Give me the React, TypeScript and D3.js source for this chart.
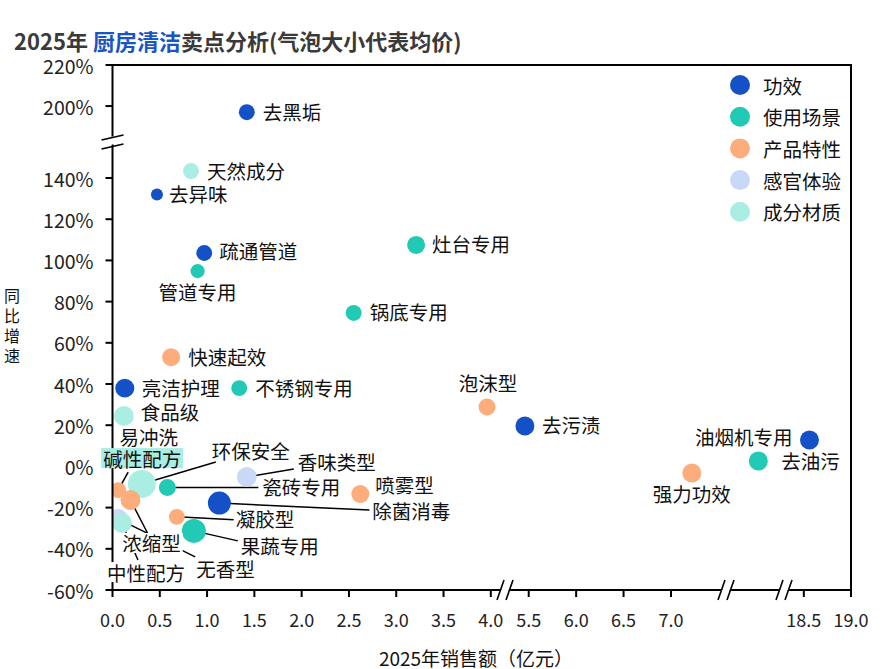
import React from 'react';
import * as d3 from 'd3';

// 卖点数据：名称、类别、销售额(亿元)、同比增速(%)、均价(元)
const names = ['去黑垢', '天然成分', '去异味', '疏通管道', '管道专用', '灶台专用', '锅底专用', '快速起效', '亮洁护理', '不锈钢专用', '食品级', '泡沫型', '去污渍', '油烟机专用', '去油污', '强力功效', '香味类型', '瓷砖专用', '易冲洗', '环保安全', '碱性配方', '浓缩型', '除菌消毒', '喷雾型', '凝胶型', '果蔬专用', '无香型', '中性配方'];
const groups = ['功效', '成分材质', '功效', '功效', '使用场景', '使用场景', '使用场景', '产品特性', '功效', '使用场景', '成分材质', '产品特性', '功效', '功效', '使用场景', '产品特性', '感官体验', '使用场景', '产品特性', '成分材质', '产品特性', '产品特性', '功效', '产品特性', '产品特性', '使用场景', '感官体验', '成分材质'];
const sales = [1.42, 0.83, 0.47, 0.97, 0.90, 3.21, 2.55, 0.62, 0.13, 1.34, 0.12, 3.96, 5.46, 18.56, 12.34, 7.22, 1.42, 0.58, 0.30, 0.31, 0.06, 0.19, 1.13, 2.62, 0.68, 0.86, 0.06, 0.10];
const growth = [197, 143.4, 132, 103.6, 94.8, 107.5, 74.5, 53, 38, 38, 24.5, 28.8, 19.6, 12.8, 2.6, -3.2, -5.1, -10.2, -8, -8.5, -11.5, -16.3, -17.8, -13.4, -24.5, -31.3, -25.5, -27.5];
const price = [28, 28, 16, 28, 22, 36, 28, 36, 40, 28, 44, 32, 40, 40, 40, 40, 44, 32, 16, 87, 28, 44, 59, 36, 28, 64, 44, 44];

const categories = ['功效', '使用场景', '产品特性', '感官体验', '成分材质'];
const colors = ['#1551c6', '#22c9b4', '#fcad7b', '#c9d9f5', '#a9ede3'];

const xTicks = [0, 0.5, 1, 1.5, 2, 2.5, 3, 3.5, 4, 5.5, 6, 6.5, 7, 18.5, 19];
const yTicks = [-60, -40, -20, 0, 20, 40, 60, 80, 100, 120, 140, 200, 220];
// 坐标轴断开区间
const xBreaks = [[4.15, 5.25], [7.58, 12.0], [12.61, 18.29]];
const yBreak = [157, 182];

// 标签位置（相对气泡）：dx, dy, 对齐, 引线终点
const labelLayout: Record<string, any> = {
  '去黑垢': { dx: 16, dy: -1 },
  '天然成分': { dx: 16, dy: -1 },
  '去异味': { dx: 12, dy: -1 },
  '疏通管道': { dx: 15, dy: -2 },
  '管道专用': { dx: 0, dy: 20, anchor: 'middle' },
  '灶台专用': { dx: 16, dy: -1 },
  '锅底专用': { dx: 16, dy: -1 },
  '快速起效': { dx: 17, dy: -1 },
  '亮洁护理': { dx: 17, dy: -1 },
  '不锈钢专用': { dx: 16, dy: -1 },
  '食品级': { dx: 17, dy: -4 },
  '泡沫型': { dx: 1, dy: -25, anchor: 'middle' },
  '去污渍': { dx: 17, dy: -2 },
  '油烟机专用': { dx: -17, dy: -4, anchor: 'end' },
  '去油污': { dx: 23, dy: -1 },
  '强力功效': { dx: 0, dy: 21, anchor: 'middle' },
  '香味类型': { dx: 51, dy: -15, line: [47, -8] },
  '瓷砖专用': { dx: 95, dy: -0.5, line: [91, 0] },
  '易冲洗': { dx: 8, dy: -46, anchor: 'middle' },
  '环保安全': { dx: 109, dy: -33, anchor: 'middle', line: [74, -22] },
  '碱性配方': { dx: 24, dy: -32, anchor: 'middle', line: [10, -18], bg: '#a9ede3' },
  '浓缩型': { dx: 21, dy: 43, anchor: 'middle', line: [17, 33] },
  '除菌消毒': { dx: 153, dy: 7, line: [150, 7] },
  '喷雾型': { dx: 15, dy: -10 },
  '凝胶型': { dx: 59, dy: 2, line: [57, 3] },
  '果蔬专用': { dx: 47, dy: 15, line: [44, 10] },
  '无香型': { dx: 78, dy: 50, line: [77, 38] },
  '中性配方': { dx: 24, dy: 49, anchor: 'middle', line: [16, 37] },
};

const W = 881;
const H = 669;
const left = 112.5;
const right = 851;
const top = 65;
const bottom = 590;
const font = '"Noto Sans CJK SC", "Noto Sans", sans-serif';
const fs = 19.5;

export default function App() {
  const x = d3.scaleLinear()
    .domain([0, xBreaks[0][0], xBreaks[0][1], xBreaks[1][0], xBreaks[1][1], xBreaks[2][0], xBreaks[2][1], 19])
    .range([left, 505, 505, 726, 726, 784, 784, right]);
  const y = d3.scaleLinear()
    .domain([-60, yBreak[0], yBreak[1], 220])
    .range([bottom, 143, 143, top]);
  const r = d3.scaleSqrt().domain([0, 100]).range([0, 15]);
  const color = d3.scaleOrdinal<string, string>().domain(categories).range(colors);

  const points = names.map((n, i) => ({
    name: n, group: groups[i], cx: x(sales[i]), cy: y(growth[i]), r: r(price[i]),
  }));
  // 易冲洗 藏在 环保安全 之下
  const order = [18, ...d3.range(names.length).filter(i => i !== 18)];

  const labelBox = (p: any) => {
    const lay = labelLayout[p.name];
    const w = p.name.length * fs + 4;
    const tx = p.cx + lay.dx;
    const anchor = lay.anchor || 'start';
    const bx = anchor === 'start' ? tx - 2 : anchor === 'end' ? tx - w + 2 : tx - w / 2;
    return { tx, ty: p.cy + lay.dy, anchor, bx, w };
  };

  const breakMark = (cx: number, cy: number, vertical: boolean, key: string) => {
    // 两条平行斜线
    if (vertical) {
      return (
        <g key={key}>
          <polygon points={`${cx - 11},${cy + 1} ${cx + 11},${cy - 4} ${cx + 11},${cy + 4} ${cx - 11},${cy + 9}`} fill="#fff" transform="translate(0,-5)" />
          <line x1={cx - 11} y1={cy - 3} x2={cx + 11} y2={cy - 8} stroke="#000" strokeWidth={1.6} />
          <line x1={cx - 11} y1={cy + 6} x2={cx + 11} y2={cy + 1} stroke="#000" strokeWidth={1.6} />
        </g>
      );
    }
    return (
      <g key={key}>
        <polygon points={`${cx - 6},${cy + 3} ${cx + 2},${cy + 3} ${cx + 6},${cy - 3} ${cx - 2},${cy - 3}`} fill="#fff" />
        <line x1={cx - 8} y1={cy + 10} x2={cx - 1} y2={cy - 10} stroke="#000" strokeWidth={1.6} />
        <line x1={cx + 1} y1={cy + 10} x2={cx + 8} y2={cy - 10} stroke="#000" strokeWidth={1.6} />
      </g>
    );
  };

  return (
    <svg width={W} height={H} style={{ position: 'absolute', left: 0, top: 0, fontFamily: font }}>
      <defs>
        <clipPath id="plot">
          <rect x={left} y={top} width={right - left} height={bottom - top} />
        </clipPath>
      </defs>

      <text x={14} y={50} fontSize={22} fontWeight="bold" fill="#3a3a3a">
        <tspan>2025年 </tspan>
        <tspan fill="#1a55c4">厨房清洁</tspan>
        <tspan>卖点分析(气泡大小代表均价)</tspan>
      </text>

      {/* 引线 */}
      {points.map(p => {
        const lay = labelLayout[p.name];
        if (!lay.line) return null;
        return <line key={'l' + p.name} x1={p.cx} y1={p.cy} x2={p.cx + lay.line[0]} y2={p.cy + lay.line[1]} stroke="#000" strokeWidth={1.5} />;
      })}

      {/* 气泡 */}
      <g clipPath="url(#plot)">
        {order.map(i => {
          const p = points[i];
          return <circle key={p.name} cx={p.cx} cy={p.cy} r={p.r} fill={color(p.group)} />;
        })}
      </g>

      {/* 坐标轴和边框 */}
      <path d={`M${left},${top}H${right}V${bottom}H${left}Z`} fill="none" stroke="#000" strokeWidth={2} />
      {yTicks.map(t => (
        <g key={'y' + t}>
          <line x1={left - 7} x2={left} y1={y(t)} y2={y(t)} stroke="#000" strokeWidth={2} />
          <text x={left - 19} y={y(t)} textAnchor="end" dominantBaseline="central" fontSize={fs} fill="#222">{t}%</text>
        </g>
      ))}
      {xTicks.map(t => (
        <g key={'x' + t}>
          <line x1={x(t)} x2={x(t)} y1={bottom} y2={bottom + 7} stroke="#000" strokeWidth={2} />
          <text x={x(t)} y={bottom + 29} textAnchor="middle" dominantBaseline="central" fontSize={18} fill="#222">{t.toFixed(1)}</text>
        </g>
      ))}
      {xBreaks.map((b, i) => breakMark(x(b[0]), bottom, false, 'xb' + i))}
      {breakMark(left, y(yBreak[0]), true, 'yb')}

      {/* 标签 */}
      {points.map(p => {
        const b = labelBox(p);
        const lay = labelLayout[p.name];
        return (
          <g key={'t' + p.name}>
            <rect x={b.bx} y={b.ty - 10} width={b.w} height={20} fill={lay.bg || '#fff'} />
            <text x={b.tx} y={b.ty} textAnchor={b.anchor} dominantBaseline="central" fontSize={fs} fill="#111">{p.name}</text>
          </g>
        );
      })}

      {/* 图例 */}
      {categories.map((c, i) => (
        <g key={'lg' + c} transform={`translate(740,${85 + i * 31.7})`}>
          <circle r={10} fill={colors[i]} />
          <text x={23} dominantBaseline="central" fontSize={fs} fill="#111">{c}</text>
        </g>
      ))}

      {/* 轴标题 */}
      <text x={12} y={288} fontSize={16} fill="#111" style={{ writingMode: 'vertical-rl', letterSpacing: '4px' }}>同比增速</text>
      <text x={476} y={657} textAnchor="middle" dominantBaseline="central" fontSize={19} fill="#111">2025年销售额（亿元）</text>
    </svg>
  );
}
